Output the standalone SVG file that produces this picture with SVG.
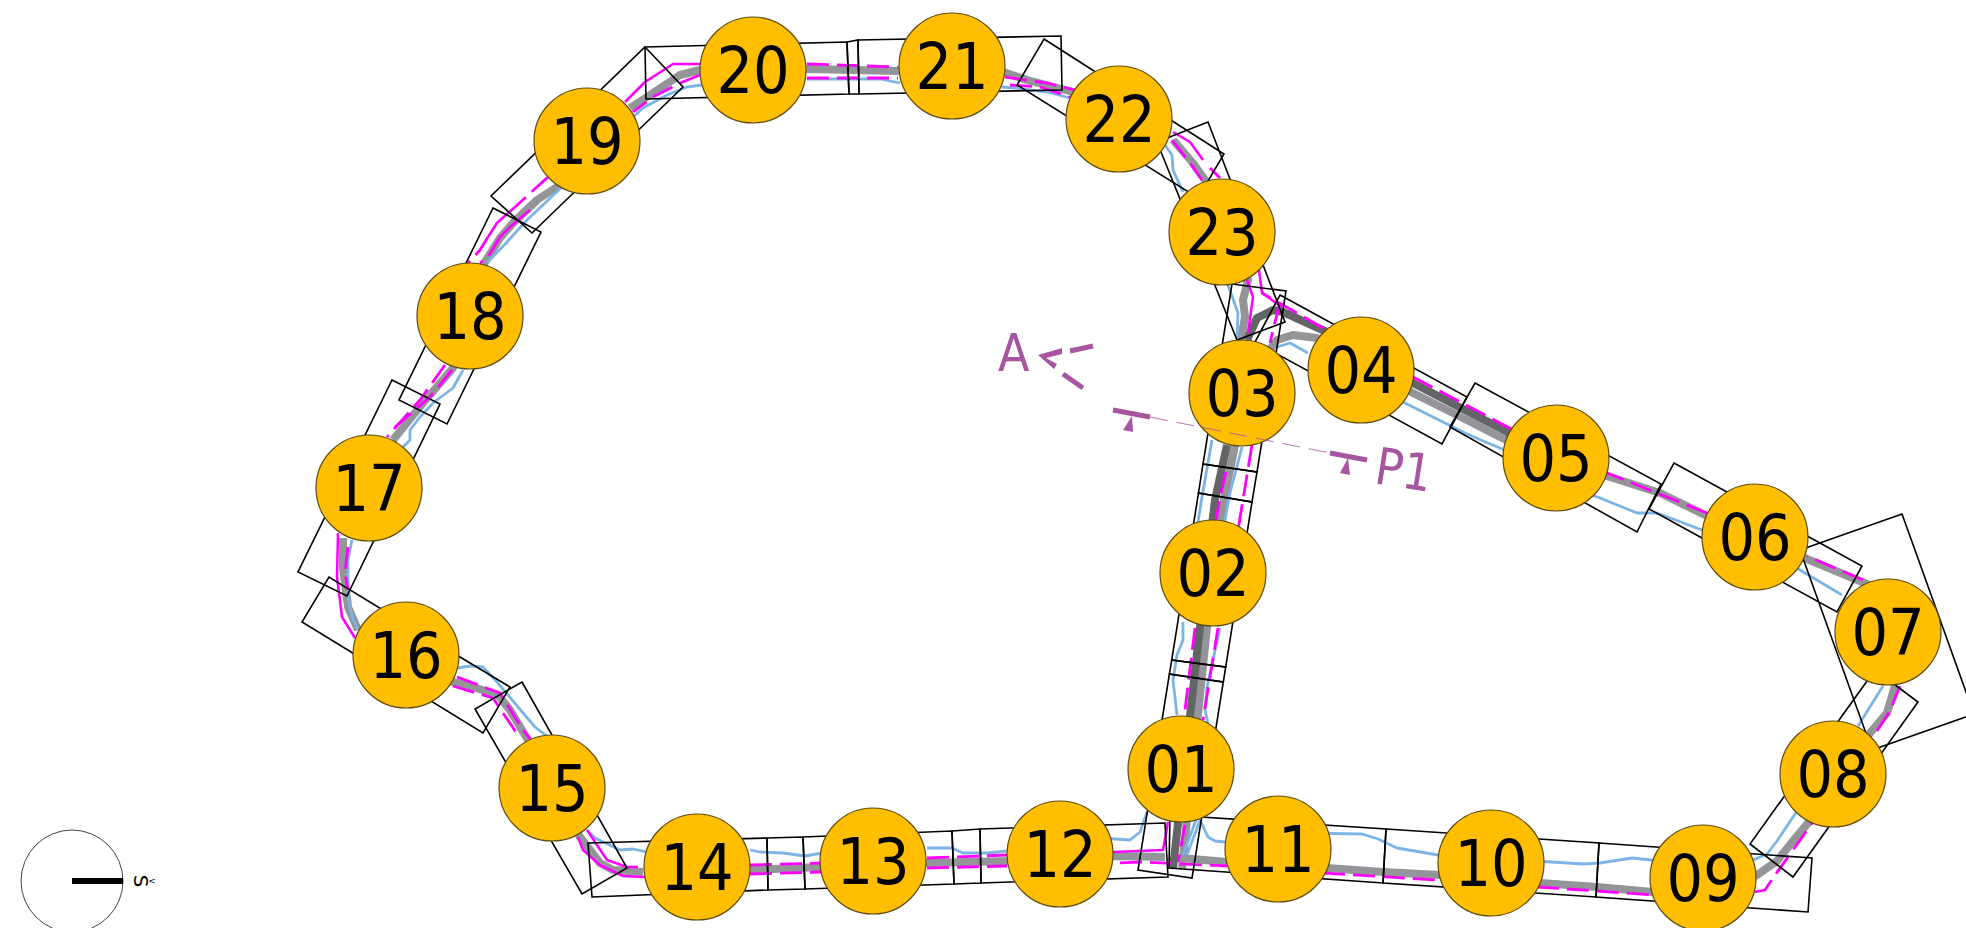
<svg xmlns="http://www.w3.org/2000/svg" width="1966" height="928" viewBox="0 0 1966 928">
<style>
.g{fill:none;stroke:#939598;stroke-width:8;stroke-linejoin:round}
.d{fill:none;stroke:#636466;stroke-width:8;stroke-linejoin:round}
.b{fill:none;stroke:#7db4e6;stroke-width:2.8;stroke-linejoin:round}
.m{fill:none;stroke:#ff00ff;stroke-width:2.5;stroke-linejoin:round}
.md{fill:none;stroke:#ff00ff;stroke-width:2.8;stroke-dasharray:22 8;stroke-linejoin:round}
.r{fill:none;stroke:#000;stroke-width:1.6;stroke-linejoin:miter}
.n{fill:#ffbf00;stroke:#5c4a12;stroke-width:1.2}
.t{font-family:"DejaVu Sans",sans-serif;font-stretch:condensed;font-size:64px;fill:#000;text-anchor:middle}
.p{fill:#a6569f;stroke:none}
.pt{font-family:"DejaVu Sans",sans-serif;font-stretch:condensed;font-size:51px;fill:#a6569f}
</style>
<g id="connectors">
<polyline class="g" points="643,872 613,870 600,863 580,837 552,790"/>
<polyline class="g" points="528,740 510,710 498,695 473,687 453,682 406,655"/>
<polyline class="g" points="358,630 348,607 343,567 343,538"/>
<polyline class="g" points="393,440 423,403 453,368 470,316"/>
<polyline class="g" points="470,316 485,262 500,238 513,223 537,200 560,185 587,141"/>
<polyline class="g" points="630,108 647,97 680,75 700,70 753,70"/>
<polyline class="g" points="753,69 807,69 897,71 952,66"/>
<polyline class="g" points="952,66 1003,72 1027,80 1073,92"/>
<polyline class="g" points="1173,140 1193,163 1205,180 1222,232"/>
<polyline class="g" points="1222,232 1248,280 1243,300 1245,317 1240,345"/>
<polyline class="g" points="700,871 750,870 820,867 873,864 927,863 1007,861 1060,858 1113,856 1165,857"/>
<polyline class="g" points="1180,858 1227,862 1327,868 1383,872 1440,875 1540,883 1597,887 1653,892 1703,895"/>
<polyline class="g" points="1730,890 1757,875 1777,861 1793,841 1813,817 1833,793 1870,733 1887,713 1895,686"/>
<polyline class="g" points="1888,597 1867,584 1807,559 1755,537 1707,516 1660,493 1607,476 1556,462"/>
<polyline class="g" points="1556,464 1500,437 1463,418 1413,393 1361,365"/>
<polyline class="g" points="1361,355 1317,338 1293,335 1277,340 1268,352"/>
<polyline class="g" points="1235,445 1224,500 1207,627 1182,868"/>
<polyline class="d" points="1227,445 1215,500 1200,627 1173,868"/>
<polyline class="d" points="1556,458 1500,428 1463,409 1413,383 1361,355 1327,332 1283,312 1273,310 1257,318 1247,340"/>
</g>
<g id="water-edges">
<polyline class="b" points="587,830 595,838 620,850 633,849 647,852"/>
<polyline class="b" points="750,850 760,852 783,853 805,856 822,853"/>
<polyline class="b" points="927,848 952,848 963,853 987,853 1007,851"/>
<polyline class="b" points="1100,838 1130,840 1140,832 1147,812"/>
<polyline class="b" points="1200,820 1208,837 1215,841 1225,842"/>
<polyline class="b" points="1200,820 1187,855"/>
<polyline class="b" points="1196,820 1183,855"/>
<polyline class="b" points="1300,833 1362,834 1378,839 1397,848 1438,855 1470,858"/>
<polyline class="b" points="1520,860 1583,864 1600,863 1632,858 1670,862"/>
<polyline class="b" points="1740,865 1753,860 1767,854 1777,841 1797,811"/>
<polyline class="b" points="1858,726 1883,686"/>
<polyline class="b" points="1842,595 1800,570 1780,558"/>
<polyline class="b" points="1720,536 1702,530 1657,513 1637,513 1600,498 1570,487"/>
<polyline class="b" points="1403,402 1465,433 1483,441 1500,448 1540,468"/>
<polyline class="b" points="1308,353 1290,343 1277,347"/>
<polyline class="b" points="1228,285 1238,313 1237,338"/>
<polyline class="b" points="1212,440 1202,497 1198,522 1185,600"/>
<polyline class="b" points="1242,447 1230,493 1225,520 1220,560"/>
<polyline class="b" points="1183,622 1183,640 1177,655 1173,680 1177,715"/>
<polyline class="b" points="1220,628 1207,687 1205,710 1208,723"/>
<polyline class="b" points="1165,145 1172,155 1173,170 1183,192"/>
<polyline class="b" points="1002,87 1015,88 1047,92 1070,98"/>
<polyline class="b" points="807,79 880,79 900,83"/>
<polyline class="b" points="702,85 687,87 667,95 643,108 633,117"/>
<polyline class="b" points="562,187 527,220 507,242 487,263"/>
<polyline class="b" points="463,370 453,388 433,403 420,417 410,430 410,440 403,447"/>
<polyline class="b" points="352,540 348,560 348,597 352,617 358,630"/>
<polyline class="b" points="458,668 470,666 483,667 497,682 518,707 535,727 548,737"/>
</g>
<g id="edge-lines">
<polyline class="md" points="750,865 822,863"/>
<polyline class="md" points="750,874 822,872"/>
<polyline class="md" points="927,858 1007,855"/>
<polyline class="md" points="927,868 1007,866"/>
<polyline class="m" points="1113,852 1163,850 1168,822"/>
<polyline class="md" points="1090,864 1140,862 1227,866"/>
<polyline class="md" points="1323,873 1437,880"/>
<polyline class="md" points="1537,887 1597,891 1653,895"/>
<polyline class="md" points="1755,892 1765,890 1773,878 1813,822"/>
<polyline class="md" points="1877,731 1890,711 1900,686"/>
<polyline class="md" points="1863,580 1807,556"/>
<polyline class="md" points="1707,513 1607,473 1570,458"/>
<polyline class="md" points="1413,377 1500,423 1540,444"/>
<polyline class="md" points="1323,328 1262,293"/>
<polyline class="m" points="1259,270 1262,293 1282,307"/>
<polyline class="md" points="1280,303 1275,322 1270,343"/>
<polyline class="m" points="1247,280 1253,297 1248,333"/>
<polyline class="md" points="1252,445 1238,530"/>
<polyline class="md" points="1218,628 1203,720"/>
<polyline class="md" points="1226,472 1220,497 1212,545"/>
<polyline class="md" points="1195,628 1185,710"/>
<polyline class="md" points="1185,825 1178,862"/>
<polyline class="m" points="1173,132 1190,142 1203,160"/>
<polyline class="md" points="1210,168 1220,178"/>
<polyline class="md" points="1172,140 1190,163 1202,180"/>
<polyline class="md" points="1005,77 1047,83 1075,90"/>
<polyline class="md" points="1010,85 1040,87 1070,97"/>
<polyline class="md" points="807,64 898,67"/>
<polyline class="md" points="807,78 898,78"/>
<polyline class="m" points="700,64 673,64 645,82 625,102"/>
<polyline class="md" points="700,75 680,83 653,97 633,112"/>
<polyline class="md" points="548,177 515,207"/>
<polyline class="m" points="515,207 497,223 488,237"/>
<polyline class="md" points="488,237 480,250 468,263"/>
<polyline class="m" points="530,210 510,227 500,237"/>
<polyline class="md" points="500,237 488,257 480,263"/>
<polyline class="md" points="445,365 420,400 387,437"/>
<polyline class="md" points="452,370 430,397 395,427"/>
<polyline class="m" points="338,533 337,577 342,617 355,638"/>
<polyline class="md" points="348,547 345,573 348,590"/>
<polyline class="md" points="457,677 500,693 523,730 535,745"/>
<polyline class="md" points="453,686 493,698 503,713 520,738"/>
<polyline class="m" points="578,837 583,850 600,865 623,876 645,877"/>
<polyline class="m" points="587,830 607,860 627,867 638,867"/>
</g>
<g id="section-frames">
<polygon class="r" points="588,843 767,838 768,890 592,897"/>
<polygon class="r" points="767,838 803,837 805,889 768,890"/>
<polygon class="r" points="803,837 952,831 954,884 805,889"/>
<polygon class="r" points="952,831 980,829 981,883 954,884"/>
<polygon class="r" points="980,829 1165,823 1168,877 981,883"/>
<polygon class="r" points="522,682 627,868 582,894 475,709"/>
<polygon class="r" points="460,657 510,687 483,733 302,622 329,577"/>
<polygon class="r" points="392,380 440,404 347,596 298,572"/>
<polygon class="r" points="493,208 541,232 447,424 399,400"/>
<polygon class="r" points="645,47 683,87 532,233 491,196"/>
<polygon class="r" points="645,47 847,42 849,94 646,99"/>
<polygon class="r" points="847,42 858,40 859,94 849,94"/>
<polygon class="r" points="858,40 1061,36 1062,90 859,94"/>
<polygon class="r" points="1044,39 1224,154 1198,198 1017,85"/>
<polygon class="r" points="1208,122 1285,322 1237,340 1157,142"/>
<polygon class="r" points="1232,284 1286,291 1257,472 1203,464"/>
<polygon class="r" points="1203,464 1257,472 1252,502 1198.5,493"/>
<polygon class="r" points="1198.5,493 1252,502 1225.7,667 1171.7,660"/>
<polygon class="r" points="1171.7,660 1225.7,667 1223.3,682 1169.4,674"/>
<polygon class="r" points="1169.4,674 1223.3,682 1192,878 1138,870"/>
<polygon class="r" points="1170,815 1386,829 1383,883 1169,868"/>
<polygon class="r" points="1386,829 1599,843 1596,897 1383,883"/>
<polygon class="r" points="1599,843 1812,858 1808,912 1596,897"/>
<polygon class="r" points="1918,702 1793,877 1750,844 1875,670"/>
<polygon class="r" points="1902,514 1974,714 1872,750 1800,550"/>
<polygon class="r" points="1674,463 1862,566 1837,612 1649,509"/>
<polygon class="r" points="1475,383 1661,484 1637,532 1450,427"/>
<polygon class="r" points="1280,295 1467,397 1442,444 1255,342"/>
</g>
<g id="n01"><circle class="n" cx="1181" cy="769" r="53"/><text class="t" x="1181" y="792">01</text></g>
<g id="n02"><circle class="n" cx="1213" cy="573" r="53"/><text class="t" x="1213" y="596">02</text></g>
<g id="n03"><circle class="n" cx="1242" cy="393" r="53"/><text class="t" x="1242" y="416">03</text></g>
<g id="n04"><circle class="n" cx="1361" cy="370" r="53"/><text class="t" x="1361" y="393">04</text></g>
<g id="n05"><circle class="n" cx="1556" cy="458" r="53"/><text class="t" x="1556" y="481">05</text></g>
<g id="n06"><circle class="n" cx="1755" cy="537" r="53"/><text class="t" x="1755" y="560">06</text></g>
<g id="n07"><circle class="n" cx="1888" cy="632" r="53"/><text class="t" x="1888" y="655">07</text></g>
<g id="n08"><circle class="n" cx="1833" cy="774" r="53"/><text class="t" x="1833" y="797">08</text></g>
<g id="n09"><circle class="n" cx="1703" cy="878" r="53"/><text class="t" x="1703" y="901">09</text></g>
<g id="n10"><circle class="n" cx="1491" cy="863" r="53"/><text class="t" x="1491" y="886">10</text></g>
<g id="n11"><circle class="n" cx="1278" cy="849" r="53"/><text class="t" x="1278" y="872">11</text></g>
<g id="n12"><circle class="n" cx="1060" cy="854" r="53"/><text class="t" x="1060" y="877">12</text></g>
<g id="n13"><circle class="n" cx="873" cy="861" r="53"/><text class="t" x="873" y="884">13</text></g>
<g id="n14"><circle class="n" cx="697" cy="867" r="53"/><text class="t" x="697" y="890">14</text></g>
<g id="n15"><circle class="n" cx="552" cy="788" r="53"/><text class="t" x="552" y="811">15</text></g>
<g id="n16"><circle class="n" cx="406" cy="655" r="53"/><text class="t" x="406" y="678">16</text></g>
<g id="n17"><circle class="n" cx="369" cy="488" r="53"/><text class="t" x="369" y="511">17</text></g>
<g id="n18"><circle class="n" cx="470" cy="316" r="53"/><text class="t" x="470" y="339">18</text></g>
<g id="n19"><circle class="n" cx="587" cy="141" r="53"/><text class="t" x="587" y="164">19</text></g>
<g id="n20"><circle class="n" cx="753" cy="70" r="53"/><text class="t" x="753" y="93">20</text></g>
<g id="n21"><circle class="n" cx="952" cy="66" r="53"/><text class="t" x="952" y="89">21</text></g>
<g id="n22"><circle class="n" cx="1119" cy="119" r="53"/><text class="t" x="1119" y="142">22</text></g>
<g id="n23"><circle class="n" cx="1222" cy="232" r="53"/><text class="t" x="1222" y="255">23</text></g>
<g id="section-P1">
<line x1="1150" y1="417" x2="1330" y2="453" stroke="#a6569f" stroke-width="1" stroke-dasharray="18 9" opacity=".8"/>
<line x1="1113" y1="410" x2="1150" y2="417" stroke="#a6569f" stroke-width="5"/>
<line x1="1330" y1="453" x2="1367" y2="460" stroke="#a6569f" stroke-width="5"/>
<polygon class="p" points="1132,416 1123,430 1133,432"/>
<polygon class="p" points="1348,458 1340,473 1350,475"/>
<text class="pt" transform="translate(1373,483) rotate(9)">P1</text>
<text class="pt" x="998" y="371">A</text>
<polygon class="p" points="1038,355 1062,348 1062,354 1046,358 1057,364 1054,369"/>
<line x1="1070" y1="351" x2="1093" y2="346" stroke="#a6569f" stroke-width="5"/>
<line x1="1063" y1="374" x2="1083" y2="388" stroke="#a6569f" stroke-width="5"/>
</g>
<g id="compass">
<circle cx="72" cy="881" r="51" fill="#fff" stroke="#444" stroke-width="1"/>
<line x1="72" y1="881" x2="123" y2="881" stroke="#000" stroke-width="6"/>
<text transform="translate(134,881) rotate(90)" font-family="DejaVu Sans,sans-serif" font-size="20" text-anchor="middle" fill="#000">S</text>
<text x="152" y="884" font-family="DejaVu Sans,sans-serif" font-size="9" text-anchor="middle" fill="#000">&lt;</text>
</g>
</svg>
